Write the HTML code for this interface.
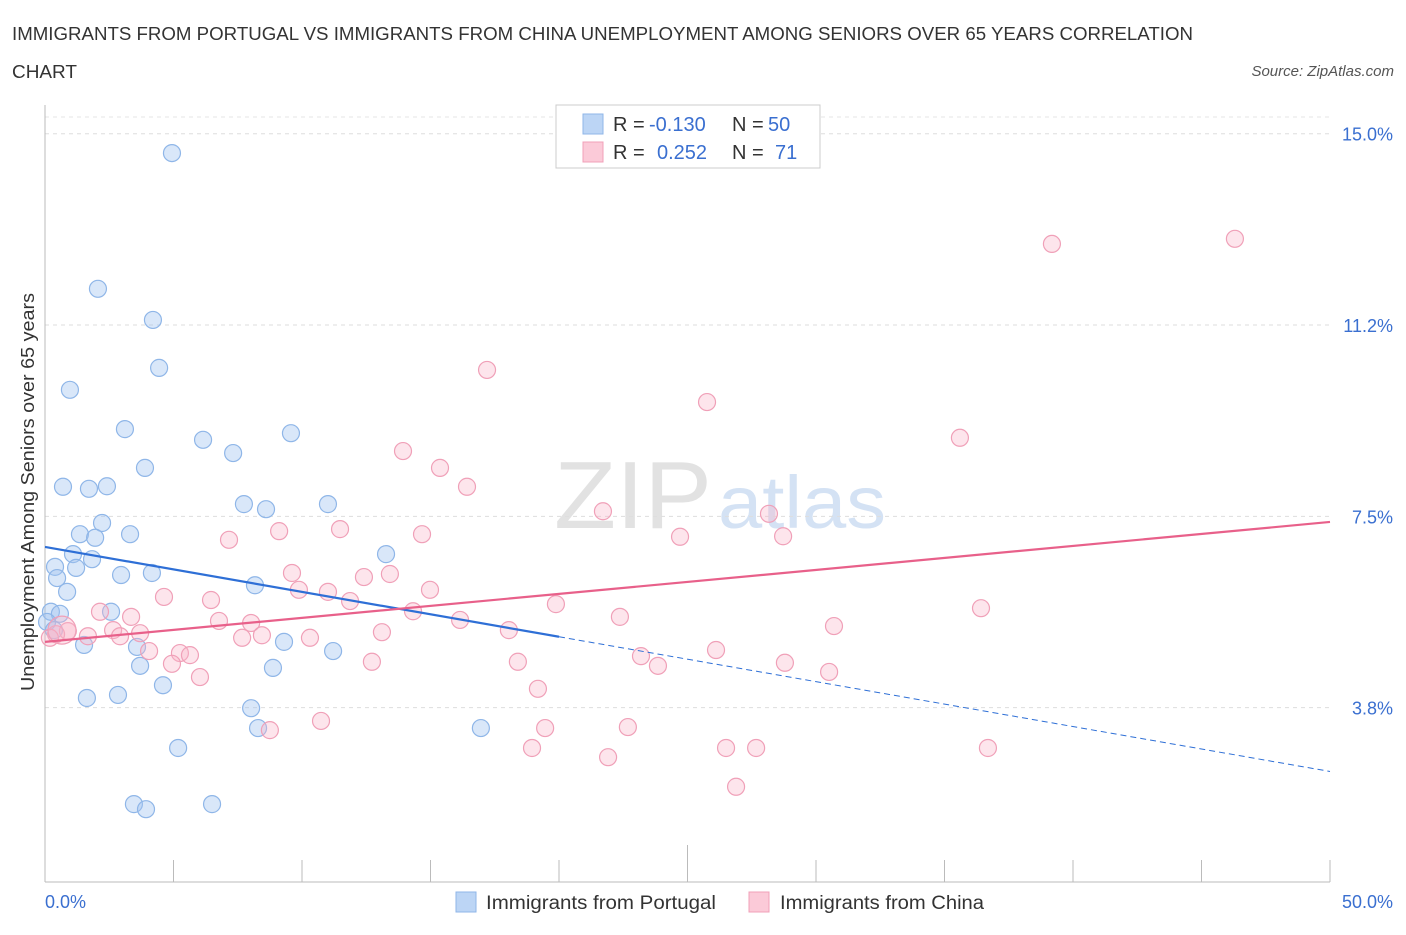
<!DOCTYPE html>
<html><head><meta charset="utf-8"><style>
body{margin:0;background:#fff;font-family:"Liberation Sans",sans-serif;}
svg text{font-family:"Liberation Sans",sans-serif;}
</style></head><body>
<svg id="c" width="1406" height="930" xmlns="http://www.w3.org/2000/svg">
<text x="12" y="40" font-size="18" fill="#333" textLength="1181" lengthAdjust="spacingAndGlyphs">IMMIGRANTS FROM PORTUGAL VS IMMIGRANTS FROM CHINA UNEMPLOYMENT AMONG SENIORS OVER 65 YEARS CORRELATION</text>
<text x="12" y="78" font-size="18" fill="#333" textLength="65" lengthAdjust="spacingAndGlyphs">CHART</text>
<text x="1394" y="76" font-size="15" fill="#555" font-style="italic" text-anchor="end">Source: ZipAtlas.com</text>
<text x="712" y="528" font-size="96" fill="#e2e2e2" text-anchor="end" font-family="Liberation Serif" textLength="158" lengthAdjust="spacingAndGlyphs">ZIP</text>
<text x="718" y="528" font-size="74" fill="#d4e2f4" textLength="168" lengthAdjust="spacingAndGlyphs">atlas</text>
<g id="grid"></g><g id="pts"></g><g id="lines"></g>
<text x="34" y="492" font-size="18" fill="#333" text-anchor="middle" textLength="398" lengthAdjust="spacingAndGlyphs" transform="rotate(-90 34 492)">Unemployment Among Seniors over 65 years</text>
<g>
<rect x="556" y="105" width="264" height="63" fill="#fff" stroke="#ccc"/>
<rect x="583" y="114" width="20" height="20" fill="#bcd5f5" stroke="#8fb6e8"/>
<rect x="583" y="142" width="20" height="20" fill="#fbcad8" stroke="#f0a0b8"/>
<text x="613" y="131" font-size="20" fill="#333">R =</text>
<text x="649" y="131" font-size="20" fill="#3a6fd0">-0.130</text>
<text x="732" y="131" font-size="20" fill="#333">N =</text>
<text x="768" y="131" font-size="20" fill="#3a6fd0">50</text>
<text x="613" y="159" font-size="20" fill="#333">R =</text>
<text x="657" y="159" font-size="20" fill="#3a6fd0">0.252</text>
<text x="732" y="159" font-size="20" fill="#333">N =</text>
<text x="775" y="159" font-size="20" fill="#3a6fd0">71</text>
</g>
<g>
<rect x="456" y="892" width="20" height="20" fill="#bcd5f5" stroke="#8fb6e8"/>
<text x="486" y="909" font-size="19" fill="#333" textLength="230" lengthAdjust="spacingAndGlyphs">Immigrants from Portugal</text>
<rect x="749" y="892" width="20" height="20" fill="#fbcad8" stroke="#f0a0b8"/>
<text x="780" y="909" font-size="19" fill="#333" textLength="204" lengthAdjust="spacingAndGlyphs">Immigrants from China</text>
</g>
</svg>
<script>
const yTicks=[3.75,7.5,11.25,15];
const yTickLabels=["3.8%","7.5%","11.2%","15.0%"];
const xTicks=[0,5,10,15,20,25,30,35,40,45,50];
const portugalX=[4.94,2.06,4.20,4.44,0.97,3.11,6.15,7.32,9.57,3.89,0.70,1.71,2.41,7.74,8.60,11.01,2.22,1.36,1.95,3.31,13.27,1.09,1.83,0.39,1.21,0.47,2.96,4.16,8.17,0.86,0.23,0.58,2.57,0.08,0.35,9.30,1.52,3.58,11.21,3.70,8.87,4.59,1.63,2.84,8.02,8.29,16.96,5.18,3.46,3.93,6.50];
const portugalY=[14.62,11.96,11.35,10.41,9.98,9.21,9.00,8.74,9.13,8.45,8.08,8.04,8.09,7.74,7.64,7.74,7.37,7.15,7.08,7.15,6.76,6.76,6.66,6.51,6.49,6.29,6.35,6.39,6.15,6.02,5.63,5.59,5.63,5.43,5.27,5.04,4.98,4.94,4.86,4.57,4.53,4.19,3.94,4.00,3.74,3.35,3.35,2.96,1.86,1.76,1.86];
const chinaX=[39.18,46.30,17.20,25.76,35.60,13.93,15.37,16.42,21.71,28.17,11.48,14.67,24.71,28.72,7.16,9.11,9.61,12.41,13.42,14.98,9.88,11.01,11.87,4.63,6.46,19.88,36.42,2.14,3.35,14.32,22.37,16.15,6.77,8.02,30.70,18.05,13.11,3.70,2.65,1.67,0.89,0.43,0.19,7.67,10.31,8.44,2.92,4.05,5.25,5.64,23.19,26.11,4.94,6.03,12.72,18.40,23.85,28.79,30.51,19.18,10.74,8.75,19.46,22.68,18.95,26.50,27.67,36.69,21.91,26.89,0.66];
const chinaY=[12.84,12.94,10.37,9.74,9.04,8.78,8.45,8.08,7.60,7.55,7.25,7.15,7.10,7.11,7.04,7.21,6.39,6.31,6.37,6.06,6.06,6.02,5.84,5.92,5.86,5.78,5.70,5.63,5.53,5.64,5.53,5.47,5.45,5.41,5.35,5.27,5.23,5.21,5.27,5.15,5.25,5.19,5.12,5.12,5.12,5.17,5.15,4.86,4.82,4.78,4.76,4.88,4.61,4.35,4.65,4.65,4.57,4.63,4.45,4.12,3.49,3.31,3.35,3.37,2.96,2.96,2.96,2.96,2.78,2.20,5.27];
const portugalTrend=[6.90,-0.088];
const chinaTrend=[5.04,0.047];
const NS="http://www.w3.org/2000/svg";
const X=v=>45+v*25.7, Y=v=>899-v*51.02;
function mk(t,a,p){const e=document.createElementNS(NS,t);for(const k in a)e.setAttribute(k,a[k]);document.getElementById(p).appendChild(e);return e;}
mk('line',{x1:45,y1:117,x2:1330,y2:117,stroke:'#e4e4e4','stroke-dasharray':'4,4'},'grid');
yTicks.forEach((t,i)=>{
 const g=mk('line',{x1:45,y1:Y(t),x2:1330,y2:Y(t),stroke:'#ddd','stroke-dasharray':'4,4'},'grid');
 
 
 const l=mk('text',{x:1393,y:Y(t)+7,'font-size':18,fill:'#3a6fd0','text-anchor':'end'},'grid');
 l.textContent=yTickLabels[i];
 
 
});
const ax=mk('line',{x1:45,y1:105,x2:45,y2:882,stroke:'#bbb'},'grid');


const bx=mk('line',{x1:45,y1:882,x2:1330,y2:882,stroke:'#bbb'},'grid');


xTicks.forEach(t=>{const k=mk('line',{x1:X(t),y1:t==25?845:860,x2:X(t),y2:882,stroke:'#bbb'},'grid');
 
 });
const x0=mk('text',{x:45,y:908,'font-size':18,fill:'#3a6fd0'},'grid');x0.textContent='0.0%';


const x1=mk('text',{x:1393,y:908,'font-size':18,fill:'#3a6fd0','text-anchor':'end'},'grid');x1.textContent='50.0%';


portugalX.forEach((v,i)=>{const c=mk('circle',{cx:X(v),cy:Y(portugalY[i]),r:8.5,fill:'rgba(160,196,240,0.4)',stroke:'#8fb6e8','stroke-width':1.2},'pts');
 
 });
chinaX.forEach((v,i)=>{const c=mk('circle',{cx:X(v),cy:Y(chinaY[i]),r:i==chinaX.length-1?14:8.5,fill:'rgba(248,180,200,0.35)',stroke:'#f0a0b8','stroke-width':1.2},'pts');
 
 });
const f=(tr,x)=>tr[0]+tr[1]*x;
const b1=mk('line',{x1:X(0),y1:Y(f(portugalTrend,0)),x2:X(20),y2:Y(f(portugalTrend,20)),stroke:'#2e6fd6','stroke-width':2.2},'lines');


const b2=mk('line',{x1:X(20),y1:Y(f(portugalTrend,20)),x2:X(50),y2:Y(f(portugalTrend,50)),stroke:'#2e6fd6','stroke-width':1,'stroke-dasharray':'6,4'},'lines');


const p1=mk('line',{x1:X(0),y1:Y(f(chinaTrend,0)),x2:X(50),y2:Y(f(chinaTrend,50)),stroke:'#e8608a','stroke-width':2.2},'lines');


</script>
</body></html>
